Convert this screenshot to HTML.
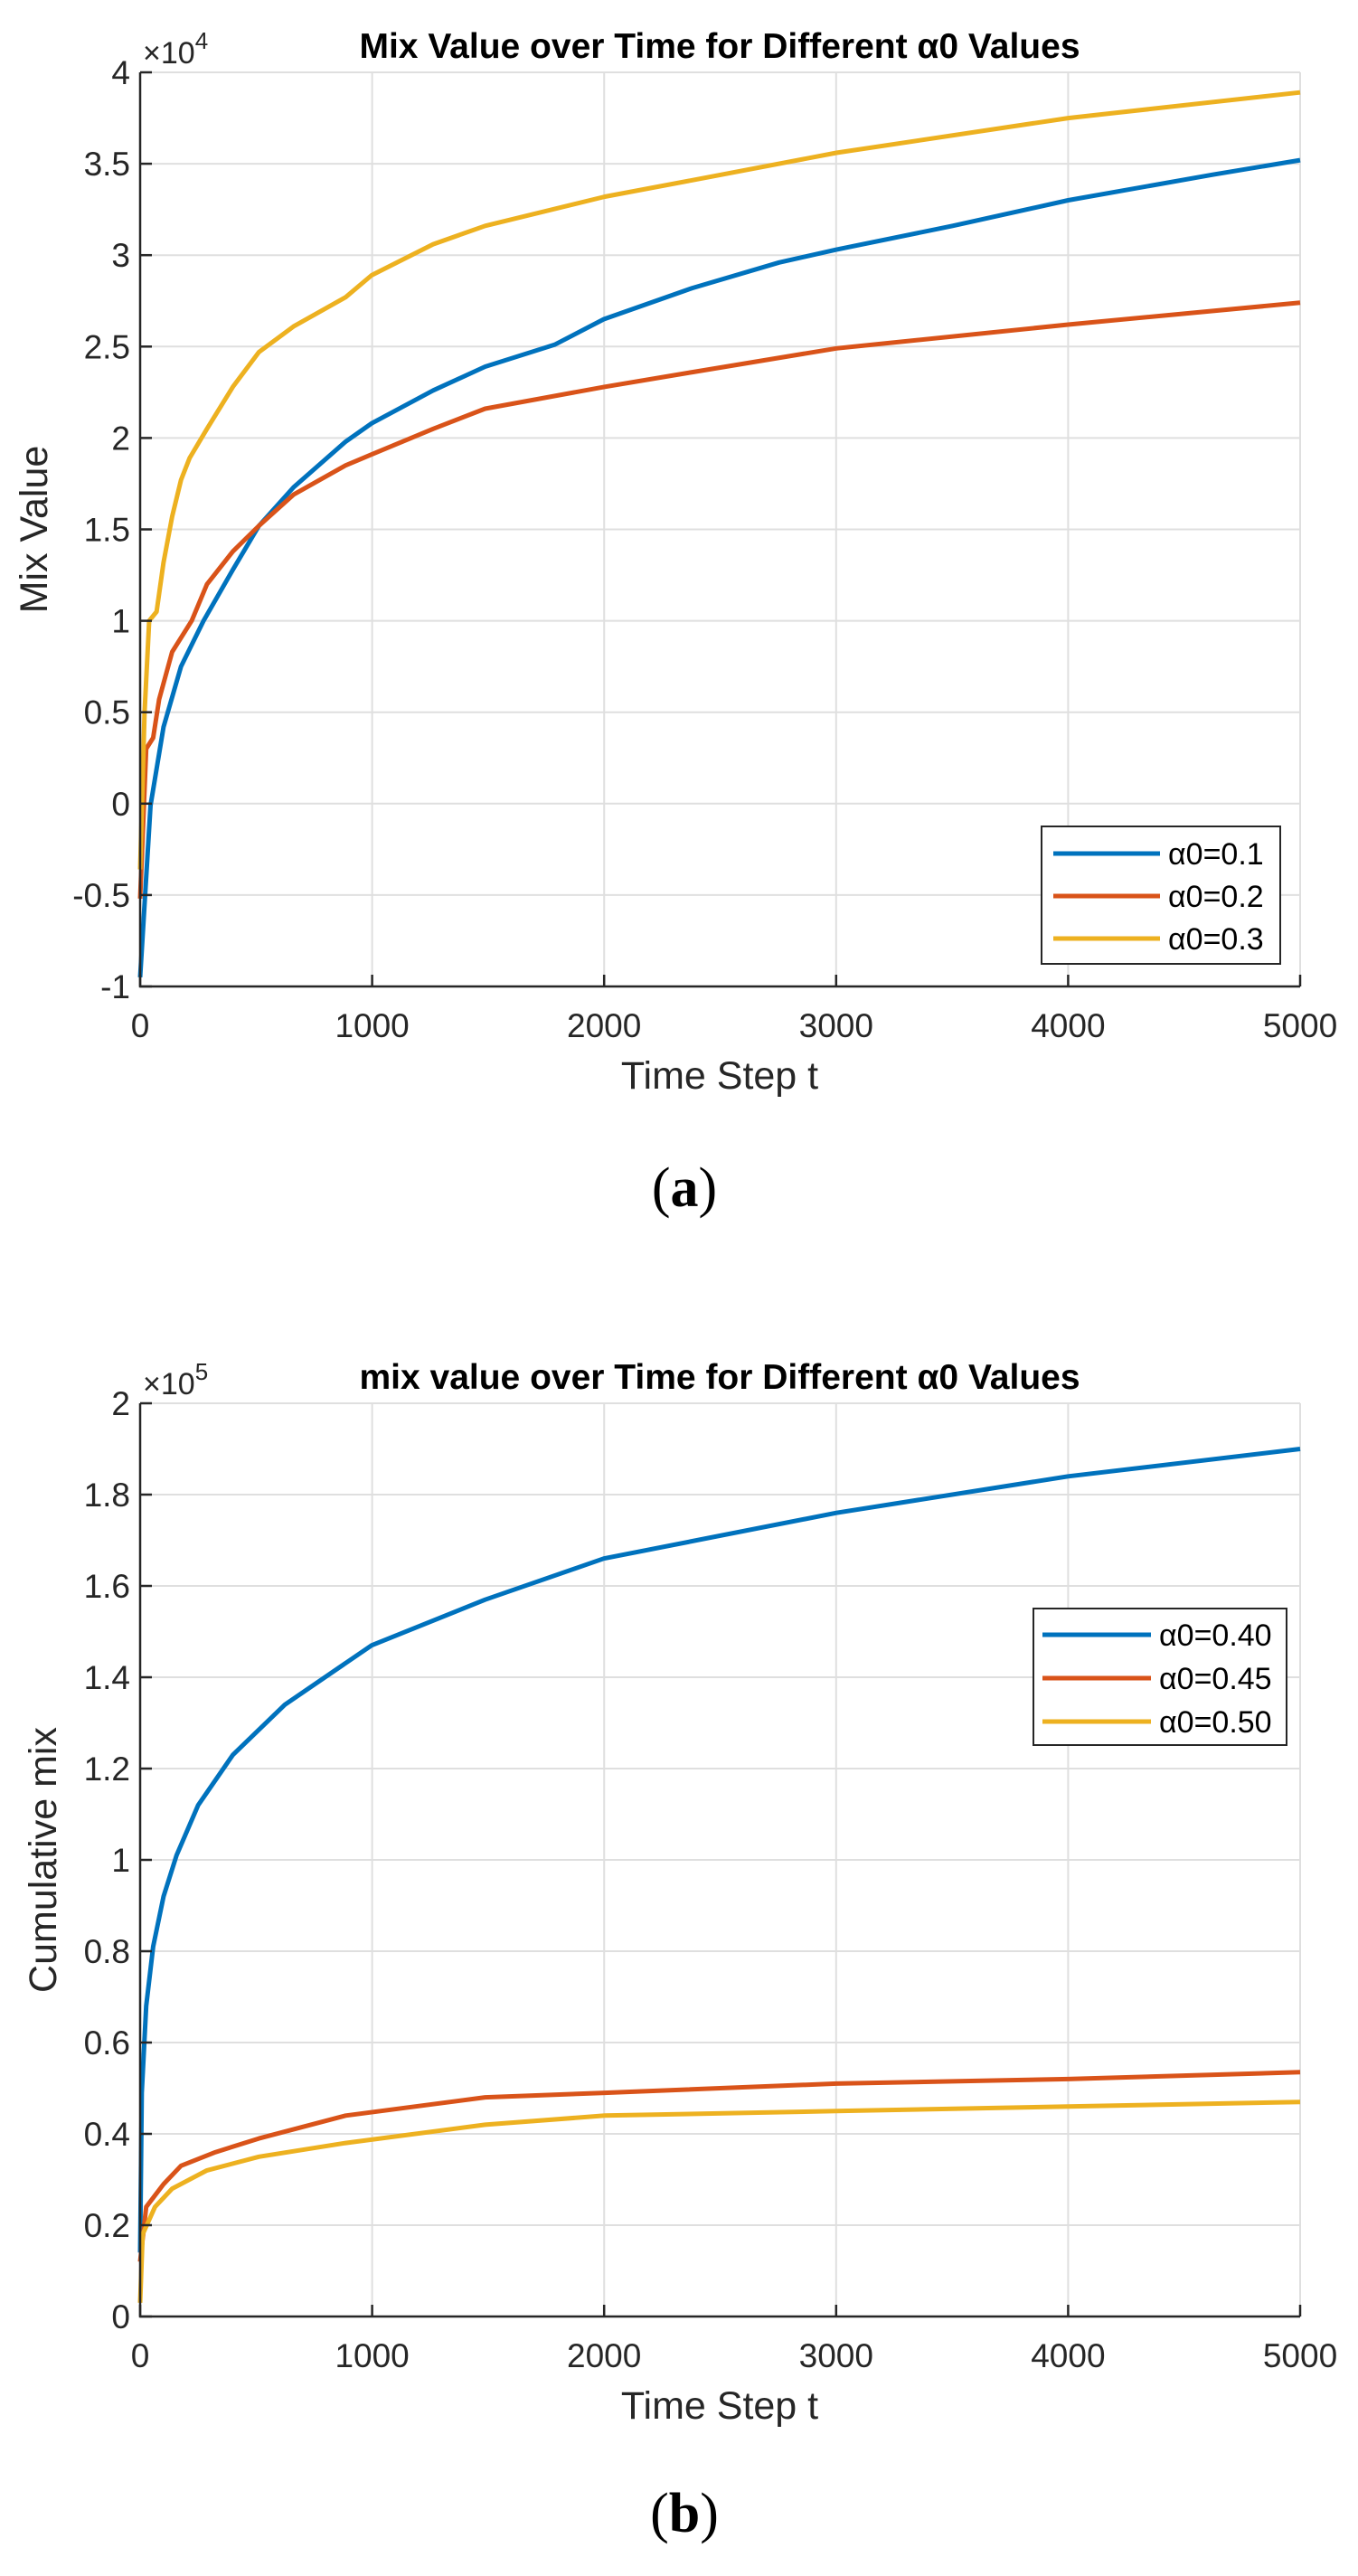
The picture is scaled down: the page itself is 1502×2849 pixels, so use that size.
<!DOCTYPE html>
<html><head><meta charset="utf-8"><style>
html,body{margin:0;padding:0;background:#fff;}
svg text{font-family:"Liberation Sans",sans-serif;}
</style></head><body>
<svg id="fig" width="1502" height="2844" viewBox="0 0 1502 2844" xmlns="http://www.w3.org/2000/svg"></svg>
<script>
const NS="http://www.w3.org/2000/svg";
// Panel (a) data (values in 1e4)
const aBlueT=[0,45,101,176,273,400,512,661,886,998,1263,1487,1786,1999,2380,2754,3001,3502,4000,4623,5000];
const aBlueV=[-0.95,-0.01,0.42,0.75,1.0,1.28,1.52,1.73,1.98,2.08,2.26,2.39,2.51,2.65,2.82,2.96,3.03,3.16,3.30,3.44,3.52];
const aOrangeT=[0,26,56,82,138,222,288,400,512,661,886,998,1263,1487,2003,2380,3001,4000,5000];
const aOrangeV=[-0.52,0.3,0.36,0.57,0.83,1.0,1.2,1.38,1.52,1.69,1.85,1.91,2.05,2.16,2.28,2.36,2.49,2.62,2.74];
const aYellowT=[0,19,39,71,101,138,176,213,288,400,512,661,886,998,1263,1487,2003,2380,3001,4000,5000];
const aYellowV=[-0.36,0.5,1.0,1.05,1.32,1.57,1.77,1.89,2.05,2.28,2.47,2.61,2.77,2.89,3.06,3.16,3.32,3.41,3.56,3.75,3.89];
const aYTicks=[-1,-0.5,0,0.5,1,1.5,2,2.5,3,3.5,4];
const aYLabels=["-1","-0.5","0","0.5","1","1.5","2","2.5","3","3.5","4"];
// Panel (b) data (values in 1e5)
const bBlueT=[0,7,26,56,101,157,250,400,624,998,1487,1999,3001,4000,5000];
const bBlueV=[0.14,0.49,0.68,0.81,0.92,1.01,1.12,1.23,1.34,1.47,1.57,1.66,1.76,1.84,1.90];
const bOrangeT=[0,26,101,176,325,512,886,1487,2003,3001,4000,5000];
const bOrangeV=[0.12,0.24,0.29,0.33,0.36,0.39,0.44,0.48,0.49,0.51,0.52,0.535];
const bYellowT=[0,11,64,138,288,512,886,1487,2003,3001,4000,5000];
const bYellowV=[0.03,0.18,0.24,0.28,0.32,0.35,0.38,0.42,0.44,0.45,0.46,0.47];
const bYTicks=[0,0.2,0.4,0.6,0.8,1,1.2,1.4,1.6,1.8,2];
const bYLabels=["0","0.2","0.4","0.6","0.8","1","1.2","1.4","1.6","1.8","2"];
const xTicks=[0,1000,2000,3000,4000,5000];
const xLabels=["0","1000","2000","3000","4000","5000"];

const svg=document.getElementById('fig');
function el(tag,attrs,parent,txt){const e=document.createElementNS(NS,tag);for(const k in attrs)e.setAttribute(k,attrs[k]);if(txt!==undefined)e.textContent=txt;(parent||svg).appendChild(e);return e;}

function panel(cfg){
  const g=el('g',{});
  
  
  const L=155,R=1438,T=cfg.top,B=cfg.bottom;
  const xs=t=>L+(t-0)/5000*(R-L);
  const ys=v=>B-(v-cfg.ymin)/(cfg.ymax-cfg.ymin)*(B-T);
  cfg.yt.forEach((v,i)=>{
    const ln=el('line',{x1:L,x2:R,y1:ys(v),y2:ys(v),stroke:'#dfdfdf','stroke-width':2},g);
    
    
  });
  xTicks.forEach(t=>{
    const ln=el('line',{x1:xs(t),x2:xs(t),y1:T,y2:B,stroke:'#dfdfdf','stroke-width':2},g);
    
    
  });
  cfg.series.forEach(s=>{
    const pts=s.t.map((t,i)=>xs(t).toFixed(1)+','+ys(s.v[i]).toFixed(1)).join(' ');
    const p=el('polyline',{points:pts,fill:'none',stroke:s.color,'stroke-width':5,'stroke-linejoin':'round'},g);
    
    
  });
  const ax=el('path',{d:`M${L},${T} L${L},${B} L${R},${B}`,fill:'none',stroke:'#262626','stroke-width':2.5},g);
  
  
  cfg.yt.forEach((v,i)=>{
    el('line',{x1:L,x2:L+13,y1:ys(v),y2:ys(v),stroke:'#262626','stroke-width':2.5},g);
    const tx=el('text',{x:144,y:ys(v)+13,'text-anchor':'end','font-size':37,fill:'#262626'},g,cfg.yl[i]);
    
    
  });
  xTicks.forEach((t,i)=>{
    el('line',{x1:xs(t),x2:xs(t),y1:B,y2:B-13,stroke:'#262626','stroke-width':2.5},g);
    const tx=el('text',{x:xs(t),y:B+56,'text-anchor':'middle','font-size':37,fill:'#262626'},g,xLabels[i]);
    
    
  });
  const ex=el('text',{x:158,y:T-10,'font-size':34,fill:'#262626'},g);
  
  
  ex.innerHTML='×10<tspan dy="-16" font-size="26">'+cfg.exp+'</tspan>';
  const ti=el('text',{x:796,y:T-16,'text-anchor':'middle','font-size':39,'font-weight':'bold',fill:'#000'},g,cfg.title);
  
  
  const xl=el('text',{x:796,y:B+113,'text-anchor':'middle','font-size':43,fill:'#262626'},g,'Time Step t');
  
  
  const yl=el('text',{x:0,y:0,'text-anchor':'middle','font-size':43,fill:'#262626',transform:`translate(${cfg.ylx},${(T+B)/2}) rotate(-90)`},g,cfg.ylabel);
  
  
  const lg=cfg.leg;
  const lb=el('rect',{x:lg.x,y:lg.y,width:lg.w,height:lg.h,fill:'#fff',stroke:'#262626','stroke-width':2},g);
  
  
  cfg.series.forEach((s,i)=>{
    const yy=lg.y0+i*lg.dy;
    const ln=el('line',{x1:lg.lx1,x2:lg.lx2,y1:yy,y2:yy,stroke:s.color,'stroke-width':5},g);
    
    
    const tx=el('text',{x:lg.tx,y:yy+12,'font-size':34,fill:'#000'},g,s.label);
    
    
  });
  const cap=el('text',{x:757,y:cfg.capY,'text-anchor':'middle','font-size':62,fill:'#000',style:'font-family:"Liberation Serif",serif'},g);
  
  
  cap.innerHTML='(<tspan font-weight="bold">'+cfg.cap+'</tspan>)';
}
panel({name:'chart-a',top:80,bottom:1091,ymin:-1,ymax:4,yt:aYTicks,yl:aYLabels,exp:'4',
  title:'Mix Value over Time for Different α0 Values',ylabel:'Mix Value',ylx:52,capY:1334,cap:'a',
  series:[{name:'line-alpha-0.1',label:'α0=0.1',color:'#0072BD',t:aBlueT,v:aBlueV},
          {name:'line-alpha-0.2',label:'α0=0.2',color:'#D95319',t:aOrangeT,v:aOrangeV},
          {name:'line-alpha-0.3',label:'α0=0.3',color:'#EDB120',t:aYellowT,v:aYellowV}],
  leg:{x:1152,y:914,w:264,h:152,y0:944,dy:47,lx1:1165,lx2:1283,tx:1292}});
panel({name:'chart-b',top:1552,bottom:2562,ymin:0,ymax:2,yt:bYTicks,yl:bYLabels,exp:'5',
  title:'mix value over Time for Different α0 Values',ylabel:'Cumulative mix',ylx:62,capY:2800,cap:'b',
  series:[{name:'line-alpha-0.40',label:'α0=0.40',color:'#0072BD',t:bBlueT,v:bBlueV},
          {name:'line-alpha-0.45',label:'α0=0.45',color:'#D95319',t:bOrangeT,v:bOrangeV},
          {name:'line-alpha-0.50',label:'α0=0.50',color:'#EDB120',t:bYellowT,v:bYellowV}],
  leg:{x:1143,y:1779,w:280,h:151,y0:1808,dy:48,lx1:1153,lx2:1273,tx:1282}});
</script>
</body></html>
